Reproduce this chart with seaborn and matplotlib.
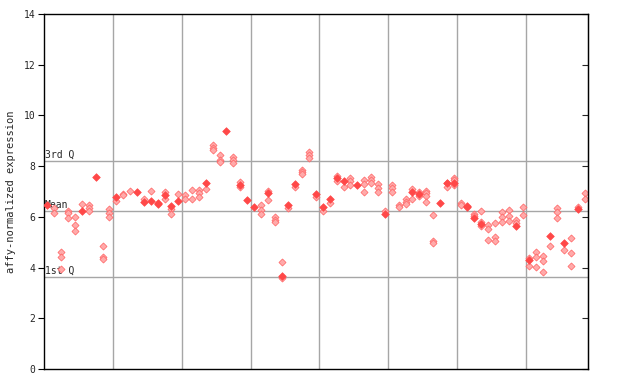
import pandas as pd
import matplotlib
matplotlib.use("Agg")
import matplotlib.pyplot as plt
import seaborn as sns

# expression per sample (index 0..78), two probe kinds
filled_values = [
    [6.47], [], [], [], [], [6.24], [], [7.58], [], [],
    [6.79], [], [], [6.99], [6.6], [6.63], [6.53, 6.5], [6.86], [6.44], [6.64],
    [], [], [], [7.35], [], [], [9.38], [], [7.26], [6.66],
    [6.4], [], [6.93], [], [3.68], [6.47], [7.3], [], [], [6.89],
    [6.4], [6.72], [7.54], [7.43], [], [7.26], [], [], [], [6.12],
    [], [], [], [6.99], [6.9], [], [], [6.53], [7.32], [7.35],
    [], [6.43, 6.37], [5.97], [5.73], [], [], [], [], [5.64], [],
    [4.3], [], [], [5.24], [], [4.98], [], [6.31], [],
]
hatched_values = [
    [], [6.35, 6.14], [4.63, 4.43, 3.94], [6.25, 6.14, 5.94], [6.0, 5.66, 5.45],
    [6.49], [6.47, 6.33, 6.24], [], [4.84, 4.42, 4.35], [6.32, 6.16, 5.99],
    [6.62], [6.9, 6.85], [7.03], [], [6.7], [7.02], [], [6.98, 6.72], [6.31, 6.13], [6.89],
    [6.86, 6.72], [7.04, 6.69], [7.04, 6.93, 6.8], [7.08], [8.82, 8.73, 8.64],
    [8.42, 8.24, 8.15], [], [8.37, 8.24, 8.14], [7.36, 7.17], [],
    [], [6.47, 6.27, 6.1], [7.02, 6.66], [5.98, 5.88, 5.8], [4.21, 3.6],
    [6.36], [7.16], [7.85, 7.77, 7.68], [8.54, 8.42, 8.31], [6.77],
    [6.23], [6.53], [7.61, 7.41], [7.19], [7.52, 7.41, 7.24],
    [], [7.45, 7.28, 7.0], [7.58, 7.45, 7.32], [7.3, 7.15, 6.98], [6.22],
    [7.24, 7.14, 6.98], [6.47, 6.37], [6.72, 6.6, 6.5], [7.1, 6.7], [6.99, 6.82],
    [7.02, 6.93, 6.83, 6.57], [6.07, 5.03, 4.96], [], [7.35, 7.16], [7.55, 7.45, 7.26],
    [6.53, 6.45], [], [6.11, 6.05], [6.25, 5.81, 5.65], [5.68, 5.51, 5.09],
    [5.76, 5.19, 5.03], [6.19, 5.98, 5.78], [6.27, 6.05, 5.82], [5.88, 5.74], [6.37, 6.06],
    [4.36, 4.06], [4.63, 4.4, 4.01], [4.46, 4.25, 3.82], [4.87], [6.33, 6.19, 5.94],
    [4.69], [5.15, 4.56, 4.06], [6.37], [6.93, 6.69],
]
quartile_labels = ["3rd Q", "Mean", "1st Q"]
quartile_values = [8.2, 6.23, 3.61]
group_edges = [9.5, 19.5, 29.5, 39.5, 49.5, 59.5, 69.5]

rows = []
for i, vals in enumerate(hatched_values):
    for v in vals:
        rows.append({"sample": i, "expr": v, "kind": "hatched"})
for i, vals in enumerate(filled_values):
    for v in vals:
        rows.append({"sample": i, "expr": v, "kind": "filled"})
df = pd.DataFrame(rows)

sns.set_style("white")
mono = "DejaVu Sans Mono"

fig = plt.figure(figsize=(6.4, 3.84), dpi=100)
ax = fig.add_axes([44 / 640, 15 / 384, 544 / 640, 355 / 384])

for x in group_edges:
    ax.axvline(x, color="#a6a6a6", lw=1, zorder=0)
for lab, q in zip(quartile_labels, quartile_values):
    ax.axhline(q, color="#a6a6a6", lw=1, zorder=0)
    ax.text(-0.35, q + 0.05, lab, fontsize=7, family=mono, va="bottom", ha="left", zorder=1)

sns.scatterplot(data=df[df.kind == "hatched"], x="sample", y="expr", marker="D", s=13,
                color="#ffaaaa", edgecolor="#ff6060", linewidth=0.5, ax=ax, zorder=2)
sns.scatterplot(data=df[df.kind == "filled"], x="sample", y="expr", marker="D", s=15,
                color="#ff4848", edgecolor="#ff4848", linewidth=0.5, ax=ax, zorder=3)

ax.set_xlim(-0.5, len(filled_values) - 0.5)
ax.set_ylim(0, 14)
ax.set_xticks([])
ax.set_yticks(range(0, 15, 2))
ax.set_yticklabels([str(t) for t in range(0, 15, 2)], family=mono, fontsize=7)
ax.tick_params(axis="y", direction="out", length=4, width=0.8, color="black", pad=2, left=True)
ax.set_xlabel("")
ax.set_ylabel("affy-normalized expression", family=mono, fontsize=7.5, labelpad=6)
for sp in ax.spines.values():
    sp.set_color("black")
    sp.set_linewidth(1)

sec = ax.secondary_yaxis("right")
sec.set_yticks(range(0, 15, 2))
sec.tick_params(direction="in", length=4, width=0.8, labelright=False)

fig.savefig("out.png", dpi=100)
